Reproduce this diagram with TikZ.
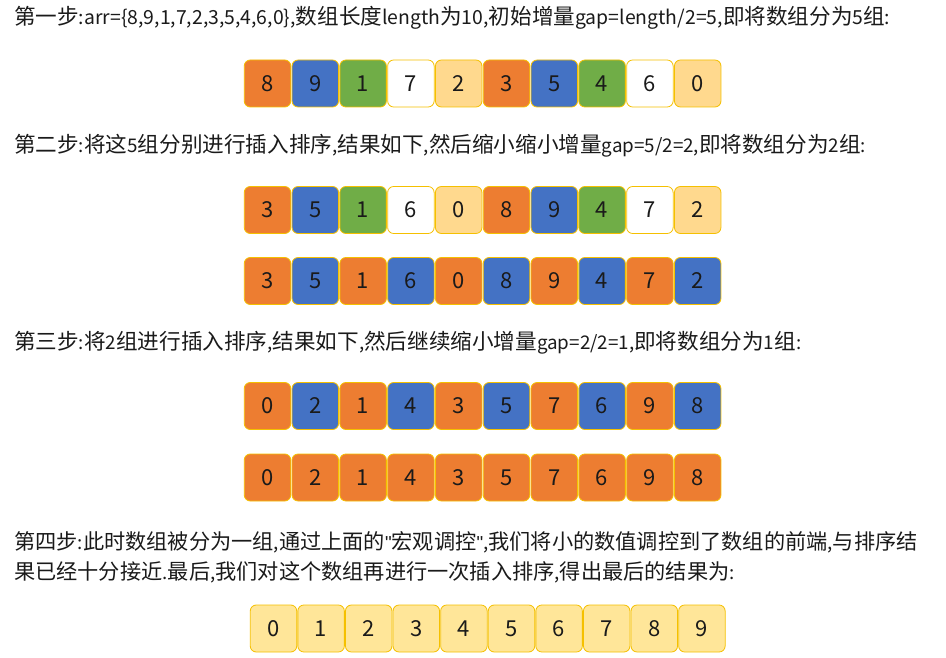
\documentclass[tikz,border=0pt]{standalone}
\usepackage{fontspec}
\setmainfont{Noto Sans CJK SC}
\newfontfamily\numfont{Noto Sans CJK SC}
\newfontfamily\quotefont{Liberation Sans}
\newcommand\lat[1]{{\fontsize{18.8}{18.8}\selectfont #1}}
\newcommand\latb[1]{{\fontsize{19.4}{19.4}\selectfont #1}}
\definecolor{cO}{HTML}{ED7D31}
\definecolor{cB}{HTML}{4472C4}
\definecolor{cG}{HTML}{70AD47}
\definecolor{cW}{HTML}{FFFFFF}
\definecolor{cY}{HTML}{FFD98E}
\definecolor{cL}{HTML}{FFE699}
\definecolor{edge}{HTML}{F5C000}
\definecolor{txt}{HTML}{1A1A1A}
\begin{document}
\begin{tikzpicture}[x=1pt,y=-1pt,
  cell/.style={draw=edge, line width=0.8pt, rounded corners=6pt, minimum width=46.5pt, minimum height=47pt, inner sep=0pt, font=\numfont\fontsize{22}{22}\selectfont, text=txt},
  line/.style={anchor=west, inner sep=0pt, font=\fontsize{21.6}{21.6}\selectfont, text=txt},
  lineb/.style={line, font=\fontsize{21.2}{21.2}\selectfont}]
\useasboundingbox (0,0) rectangle (946,658);
\node[line] (t1) at (14,18) {第一步\latb{:arr=\{8,9,1,7,2,3,5,4,6,0\},}数组长度\latb{length}为\latb{10,}初始增量\latb{gap=length/2=5,}即将数组分为\latb{5}组\latb{:}};
\node[line] (t2) at (14,146) {第二步\lat{:}将这\lat{5}组分别进行插入排序\lat{,}结果如下\lat{,}然后缩小缩小增量\lat{gap=5/2=2,}即将数组分为\lat{2}组\lat{:}};
\node[line] (t3) at (14,343) {第三步\lat{:}将\lat{2}组进行插入排序\lat{,}结果如下\lat{,}然后继续缩小增量\lat{gap=2/2=1,}即将数组分为\lat{1}组\lat{:}};
\node[lineb] (t4) at (14,542) {第四步\lat{:}此时数组被分为一组\lat{,}通过上面的\lat{\quotefont"}宏观调控\lat{\quotefont"}\lat{,}我们将小的数值调控到了数组的前端\lat{,}与排序结};
\node[lineb] (t5) at (14,572) {果已经十分接近\lat{.}最后\lat{,}我们对这个数组再进行一次插入排序\lat{,}得出最后的结果为\lat{:}};
% row 1
\foreach \v/\c [count=\i] in {8/cO,9/cB,1/cG,7/cW,2/cY,3/cO,5/cB,4/cG,6/cW,0/cY}
  \node[cell, fill=\c] (a\i) at ({244+23.5+(\i-1)*47.8},83.5) {\v};
% row 2
\foreach \v/\c [count=\i] in {3/cO,5/cB,1/cG,6/cW,0/cY,8/cO,9/cB,4/cG,7/cW,2/cY}
  \node[cell, fill=\c] (b\i) at ({244+23.5+(\i-1)*47.8},210) {\v};
% row 3
\foreach \v/\c [count=\i] in {3/cO,5/cB,1/cO,6/cB,0/cO,8/cB,9/cO,4/cB,7/cO,2/cB}
  \node[cell, fill=\c] (c\i) at ({244+23.5+(\i-1)*47.8},281) {\v};
% row 4
\foreach \v/\c [count=\i] in {0/cO,2/cB,1/cO,4/cB,3/cO,5/cB,7/cO,6/cB,9/cO,8/cB}
  \node[cell, fill=\c] (d\i) at ({244+23.5+(\i-1)*47.8},406) {\v};
% row 5
\foreach \v [count=\i] in {0,2,1,4,3,5,7,6,9,8}
  \node[cell, fill=cO] (e\i) at ({244+23.5+(\i-1)*47.8},477.5) {\v};
% row 6
\foreach \v [count=\i] in {0,1,2,3,4,5,6,7,8,9}
  \node[cell, fill=cL] (f\i) at ({250+23.5+(\i-1)*47.6},628.5) {\v};
\end{tikzpicture}
\end{document}
